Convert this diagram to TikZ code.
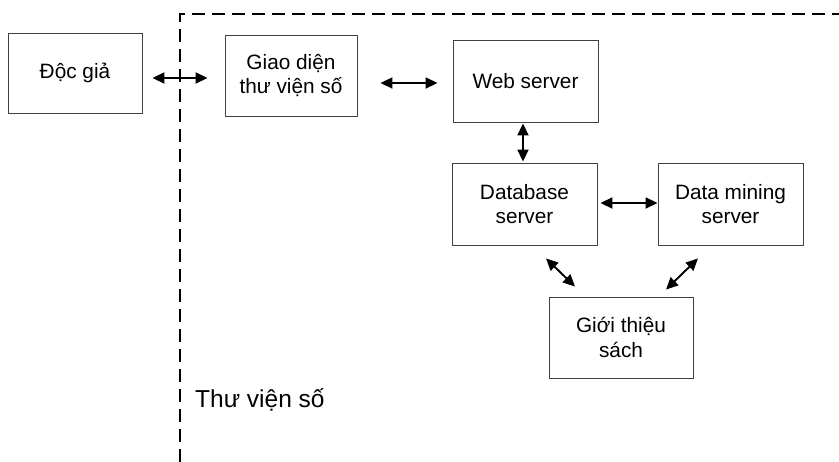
\documentclass[tikz,border=0pt]{standalone}
\usepackage{fontspec}
\setmainfont{Liberation Sans}
\usetikzlibrary{arrows.meta}
\begin{document}
\begin{tikzpicture}[x=1pt,y=-1pt,
  box/.style={draw=black!75,line width=0.9pt,minimum width=#1,inner sep=0pt,align=center,
    font=\fontsize{20.8}{24.5}\selectfont},
  box/.default=145pt,
  arr/.style={line width=1.9pt,{Triangle[length=12pt,width=11pt]}-{Triangle[length=12pt,width=11pt]}},
  border/.style={line width=1.7pt,dash pattern=on 13pt off 7pt}]
\useasboundingbox (0,0) rectangle (839,462);
\path[border,draw] (180,462) -- (180,14) -- (839,14);
\node[box=134pt,minimum height=80pt] (doc) at (75,73) {Độc giả};
\node[box=132pt,minimum height=81pt] (giao) at (291,75.5) {Giao diện\\thư viện số};
\node[box=145pt,minimum height=82pt] (web) at (525.5,81) {Web server};
\node[box=145pt,minimum height=82pt] (db) at (524.5,204) {Database\\server};
\node[box=145pt,minimum height=82pt] (dm) at (730.5,204) {Data mining\\server};
\node[box=144pt,minimum height=81pt] (gt) at (621,337.5) {Giới thiệu\\sách};
\node[anchor=base west,inner sep=0pt,font=\fontsize{24.5}{29}\selectfont] (lbl) at (195,408) {Thư viện số};
\draw[arr] ([shift={(10,5)}]doc.east) -- ([shift={(-17,2.5)}]giao.west);
\draw[arr] ([shift={(23,7.5)}]giao.east) -- ([shift={(-15,2)}]web.west);
\draw[arr] ([shift={(-2.5,1)}]web.south) -- ([shift={(-1.5,-1)}]db.north);
\draw[arr] ([shift={(3,-1)}]db.east) -- ([shift={(0,-1)}]dm.west);
\draw[arr] ([shift={(21.5,13)}]db.south) -- ([shift={(-46,-10)}]gt.north);
\draw[arr] ([shift={(-32.5,13)}]dm.south) -- ([shift={(45,-7)}]gt.north);
\end{tikzpicture}
\end{document}
